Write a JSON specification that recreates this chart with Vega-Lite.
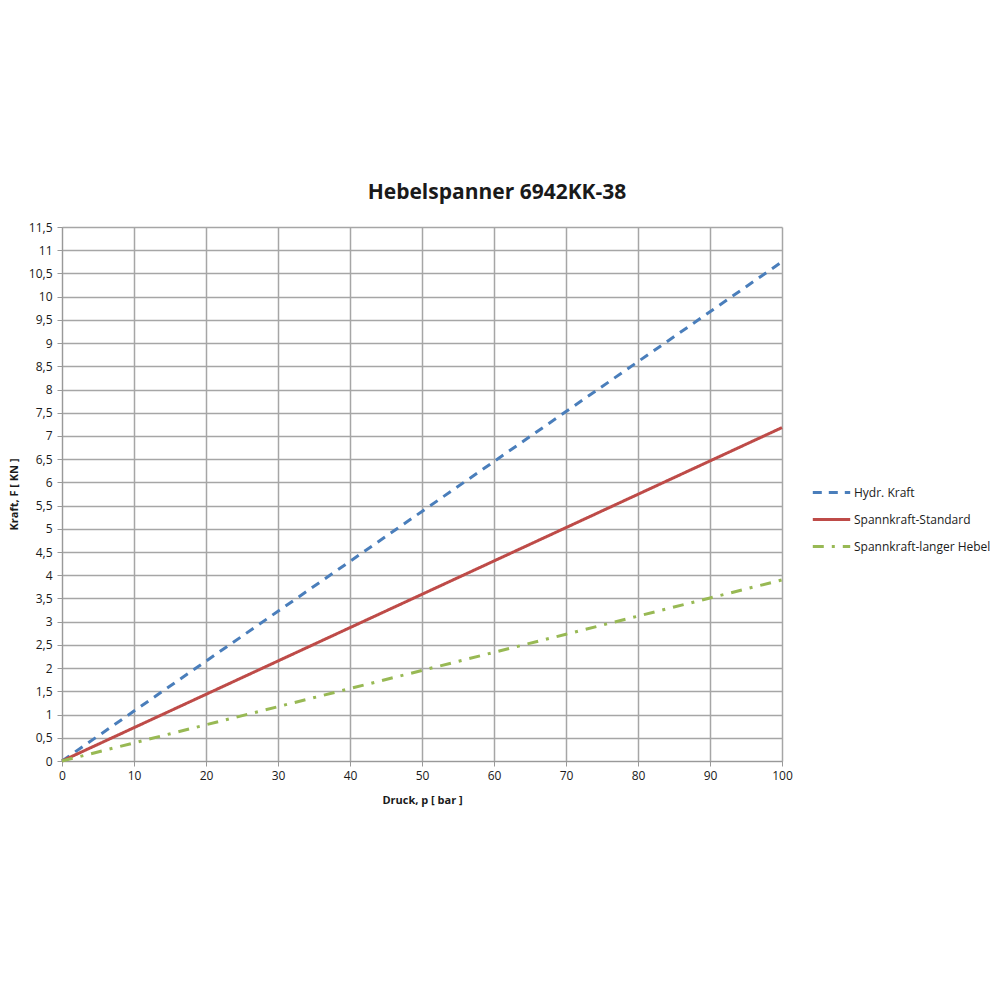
{
  "$schema": "https://vega.github.io/schema/vega-lite/v6.json",
  "autosize": {"type": "none"},
  "padding": {"left": 62, "top": 227, "right": 218, "bottom": 239},
  "width": 720,
  "height": 534,
  "background": "white",
  "title": {
    "text": "Hebelspanner 6942KK-38",
    "font": "Open Sans",
    "fontSize": 21,
    "fontWeight": "bold",
    "color": "#1a1a1a",
    "anchor": "middle",
    "dx": 75,
    "offset": 18
  },
  "data": {
    "values": [
      {"p": 0, "F": 0, "s": "Hydr. Kraft"},
      {"p": 10, "F": 1.075, "s": "Hydr. Kraft"},
      {"p": 20, "F": 2.15, "s": "Hydr. Kraft"},
      {"p": 30, "F": 3.225, "s": "Hydr. Kraft"},
      {"p": 40, "F": 4.3, "s": "Hydr. Kraft"},
      {"p": 50, "F": 5.375, "s": "Hydr. Kraft"},
      {"p": 60, "F": 6.45, "s": "Hydr. Kraft"},
      {"p": 70, "F": 7.525, "s": "Hydr. Kraft"},
      {"p": 80, "F": 8.6, "s": "Hydr. Kraft"},
      {"p": 90, "F": 9.675, "s": "Hydr. Kraft"},
      {"p": 100, "F": 10.75, "s": "Hydr. Kraft"},
      {"p": 0, "F": 0, "s": "Spannkraft-Standard"},
      {"p": 10, "F": 0.718, "s": "Spannkraft-Standard"},
      {"p": 20, "F": 1.436, "s": "Spannkraft-Standard"},
      {"p": 30, "F": 2.154, "s": "Spannkraft-Standard"},
      {"p": 40, "F": 2.872, "s": "Spannkraft-Standard"},
      {"p": 50, "F": 3.59, "s": "Spannkraft-Standard"},
      {"p": 60, "F": 4.308, "s": "Spannkraft-Standard"},
      {"p": 70, "F": 5.026, "s": "Spannkraft-Standard"},
      {"p": 80, "F": 5.744, "s": "Spannkraft-Standard"},
      {"p": 90, "F": 6.462, "s": "Spannkraft-Standard"},
      {"p": 100, "F": 7.18, "s": "Spannkraft-Standard"},
      {"p": 0, "F": 0, "s": "Spannkraft-langer Hebel"},
      {"p": 10, "F": 0.39, "s": "Spannkraft-langer Hebel"},
      {"p": 20, "F": 0.78, "s": "Spannkraft-langer Hebel"},
      {"p": 30, "F": 1.17, "s": "Spannkraft-langer Hebel"},
      {"p": 40, "F": 1.56, "s": "Spannkraft-langer Hebel"},
      {"p": 50, "F": 1.95, "s": "Spannkraft-langer Hebel"},
      {"p": 60, "F": 2.34, "s": "Spannkraft-langer Hebel"},
      {"p": 70, "F": 2.73, "s": "Spannkraft-langer Hebel"},
      {"p": 80, "F": 3.12, "s": "Spannkraft-langer Hebel"},
      {"p": 90, "F": 3.51, "s": "Spannkraft-langer Hebel"},
      {"p": 100, "F": 3.9, "s": "Spannkraft-langer Hebel"}
    ]
  },
  "mark": {"type": "line", "strokeWidth": 3, "strokeCap": "butt"},
  "encoding": {
    "x": {
      "field": "p",
      "type": "quantitative",
      "scale": {"domain": [0, 100], "nice": false, "zero": true},
      "axis": {
        "title": "Druck, p [ bar ]",
        "titleFont": "Open Sans",
        "titleFontSize": 11,
        "titleFontWeight": "bold",
        "titleColor": "#1a1a1a",
        "titlePadding": 13,
        "values": [0, 10, 20, 30, 40, 50, 60, 70, 80, 90, 100],
        "labelFlush": false,
        "labelFont": "Open Sans",
        "labelFontSize": 12,
        "labelColor": "#1a1a1a",
        "labelPadding": 4,
        "tickSize": 5,
        "tickColor": "#999999",
        "domainColor": "#999999",
        "gridColor": "#a6a6a6",
        "gridWidth": 1.5,
        "grid": true
      }
    },
    "y": {
      "field": "F",
      "type": "quantitative",
      "scale": {"domain": [0, 11.5], "nice": false},
      "axis": {
        "title": "Kraft, F [ KN ]",
        "titleFont": "Open Sans",
        "titleFontSize": 11,
        "titleFontWeight": "bold",
        "titleColor": "#1a1a1a",
        "titlePadding": 9,
        "values": [0, 0.5, 1, 1.5, 2, 2.5, 3, 3.5, 4, 4.5, 5, 5.5, 6, 6.5, 7, 7.5, 8, 8.5, 9, 9.5, 10, 10.5, 11, 11.5],
        "labelExpr": "replace(format(datum.value, '.1~f'), '.', ',')",
        "labelFont": "Open Sans",
        "labelFontSize": 12,
        "labelColor": "#1a1a1a",
        "labelPadding": 5,
        "labelFlush": false,
        "tickSize": 5,
        "tickColor": "#999999",
        "domainColor": "#999999",
        "gridColor": "#a6a6a6",
        "gridWidth": 1.5,
        "grid": true
      }
    },
    "color": {
      "field": "s",
      "type": "nominal",
      "scale": {
        "domain": ["Hydr. Kraft", "Spannkraft-Standard", "Spannkraft-langer Hebel"],
        "range": ["#4a7ebb", "#be4b48", "#98b954"]
      },
      "legend": {
        "title": null,
        "orient": "none",
        "legendX": 749,
        "legendY": 245,
        "symbolType": "stroke",
        "symbolSize": 1400,
        "symbolStrokeWidth": 3,
        "labelFont": "Open Sans",
        "labelFontSize": 12,
        "labelColor": "#1a1a1a",
        "labelOffset": 2,
        "rowPadding": 0
      }
    },
    "strokeDash": {
      "field": "s",
      "type": "nominal",
      "scale": {
        "domain": ["Hydr. Kraft", "Spannkraft-Standard", "Spannkraft-langer Hebel"],
        "range": [[9, 7], [1, 0], [11, 8, 3, 8]]
      },
      "legend": {
        "title": null,
        "orient": "none",
        "legendX": 749,
        "legendY": 245,
        "symbolType": "stroke",
        "symbolSize": 1400,
        "symbolStrokeWidth": 3,
        "labelFont": "Open Sans",
        "labelFontSize": 12,
        "labelColor": "#1a1a1a",
        "labelOffset": 2,
        "rowPadding": 0
      }
    }
  },
  "config": {
    "view": {"stroke": null}
  }
}
